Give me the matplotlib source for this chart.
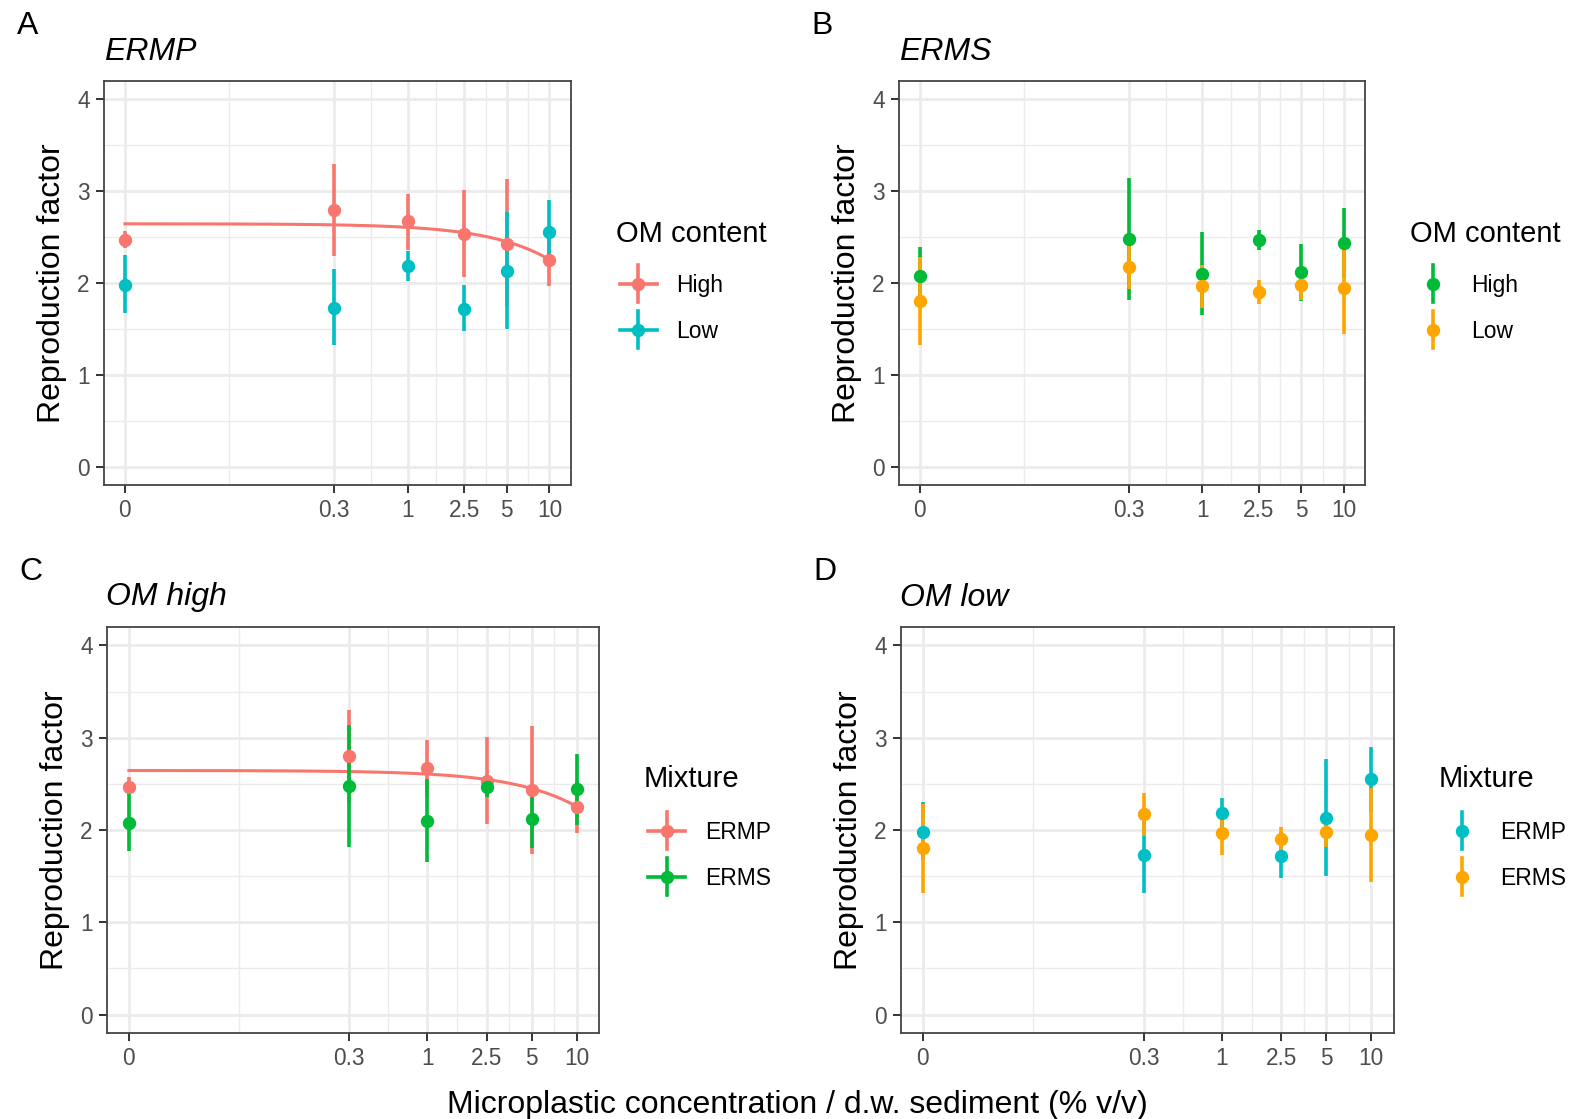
import numpy as np
import matplotlib.pyplot as plt
from matplotlib.ticker import NullFormatter

plt.rcParams['font.family'] = ['Liberation Sans', 'DejaVu Sans']

# concentrations (% v/v); 0 is drawn at 0.01 on the log axis
conc = np.array([0, 0.3, 1, 2.5, 5, 10])
conc_labels = ['0', '0.3', '1', '2.5', '5', '10']
zero_pos = 0.01

# ERMP mixture, high / low OM content (mean, lower, upper)
ermp_high = np.array([2.47, 2.80, 2.67, 2.53, 2.43, 2.25])
ermp_high_lo = np.array([2.38, 2.29, 2.36, 2.06, 1.74, 1.97])
ermp_high_hi = np.array([2.57, 3.30, 2.97, 3.01, 3.13, 2.53])
ermp_low = np.array([1.98, 1.73, 2.18, 1.72, 2.13, 2.55])
ermp_low_lo = np.array([1.67, 1.32, 2.02, 1.48, 1.50, 2.20])
ermp_low_hi = np.array([2.30, 2.15, 2.35, 1.98, 2.77, 2.90])

# ERMS mixture
erms_high = np.array([2.08, 2.48, 2.10, 2.47, 2.12, 2.44])
erms_high_lo = np.array([1.77, 1.82, 1.65, 2.36, 1.80, 2.05])
erms_high_hi = np.array([2.39, 3.14, 2.55, 2.58, 2.43, 2.82])
erms_low = np.array([1.80, 2.17, 1.97, 1.90, 1.98, 1.95])
erms_low_lo = np.array([1.32, 1.93, 1.73, 1.77, 1.82, 1.44])
erms_low_hi = np.array([2.28, 2.40, 2.20, 2.03, 2.15, 2.45])

# linear model fitted to ERMP / OM high
fit_intercept = 2.645
fit_slope = -0.039

red = '#F8766D'
cyan = '#00BFC4'
green = '#00BA38'
orange = '#FFA500'

W, H = 1590, 1119
fig = plt.figure(figsize=(W / 100, H / 100), dpi=100)

# overlay in pixel coordinates for letters, legends and the shared x label
ov = fig.add_axes([0, 0, 1, 1])
ov.set_xlim(0, W)
ov.set_ylim(H, 0)
ov.axis('off')


def px_box(left, top, right, bottom):
    return [left / W, 1 - bottom / H, (right - left) / W, (bottom - top) / H]


def panel(rect, letter, title, series, fit, leg_title, leg_x, leg_title_y, leg_keys_y):
    left, top, right, bottom = rect
    ax = fig.add_axes(px_box(*rect))
    x = np.where(conc == 0, zero_pos, conc)

    if fit:
        xs = np.geomspace(zero_pos, 10, 200)
        ax.plot(xs, fit_intercept + fit_slope * xs, color=red, lw=2.2, zorder=2)

    for name, color, m, lo, hi in series:
        ax.errorbar(x, m, yerr=[m - lo, hi - m], fmt='o', color=color, ms=8.6,
                    elinewidth=2.6, capsize=0, zorder=3)

    ax.set_xscale('log')
    ax.set_xlim(10 ** -2.15, 10 ** 1.15)
    ax.set_ylim(-0.2, 4.2)
    ax.set_xticks(x, conc_labels)
    lx = np.log10(x)
    ax.set_xticks(10 ** ((lx[:-1] + lx[1:]) / 2), minor=True)
    ax.xaxis.set_minor_formatter(NullFormatter())
    ax.set_yticks([0, 1, 2, 3, 4])
    ax.set_yticks([0.5, 1.5, 2.5, 3.5], minor=True)
    ax.set_axisbelow(True)
    ax.grid(which='major', color='#EBEBEB', lw=2.0)
    ax.grid(which='minor', color='#EBEBEB', lw=1.0)
    ax.tick_params(which='major', length=6, width=1.4, color='#333333',
                   labelsize=16.3, labelcolor='#4D4D4D', pad=4)
    ax.tick_params(which='minor', length=0)
    for s in ax.spines.values():
        s.set_color('#444444')
        s.set_linewidth(1.3)

    mid_y = (top + bottom) / 2
    ov.text(left - 52, mid_y, 'Reproduction factor', rotation=90, ha='center',
            va='center', fontsize=23)
    ov.text(left - 87, top - 47.5, letter, fontsize=23, va='baseline', ha='left')
    ov.text(left, top - 21.5, title, fontsize=23, style='italic', va='baseline', ha='left')

    # legend
    ov.text(leg_x, leg_title_y, leg_title, fontsize=21, va='baseline', ha='left')
    for (name, color, *_), ky in zip(series, leg_keys_y):
        kx = leg_x + 22.5
        if fit:
            ov.plot([kx - 18.5, kx + 18.5], [ky, ky], color=color, lw=2.6)
        ov.plot([kx, kx], [ky - 18.5, ky + 18.5], color=color, lw=2.6)
        ov.plot(kx, ky, 'o', color=color, ms=8.6)
        ov.text(kx + 38.5, ky + 8.3, name, fontsize=16.5, va='baseline', ha='left')
    return ax


panel((103.7, 81, 570.7, 485), 'A', 'ERMP',
      [('High', red, ermp_high, ermp_high_lo, ermp_high_hi),
       ('Low', cyan, ermp_low, ermp_low_lo, ermp_low_hi)],
      True, 'OM content', 615.5, 241.7, [283.5, 329.5])

panel((898.6, 81, 1365, 485), 'B', 'ERMS',
      [('High', green, erms_high, erms_high_lo, erms_high_hi),
       ('Low', orange, erms_low, erms_low_lo, erms_low_hi)],
      False, 'OM content', 1410.5, 241.7, [283.5, 329.5])

panel((106.5, 627, 599, 1033), 'C', 'OM high',
      [('ERMP', red, ermp_high, ermp_high_lo, ermp_high_hi),
       ('ERMS', green, erms_high, erms_high_lo, erms_high_hi)],
      True, 'Mixture', 644, 786.8, [830.5, 876.5])

panel((900.5, 627, 1393.7, 1033), 'D', 'OM low',
      [('ERMP', cyan, ermp_low, ermp_low_lo, ermp_low_hi),
       ('ERMS', orange, erms_low, erms_low_lo, erms_low_hi)],
      False, 'Mixture', 1439, 786.8, [830.5, 876.5])

ov.text(797, 1113, 'Microplastic concentration / d.w. sediment (% v/v)',
        fontsize=23, ha='center', va='baseline')

fig.savefig('out.png', dpi=100)
